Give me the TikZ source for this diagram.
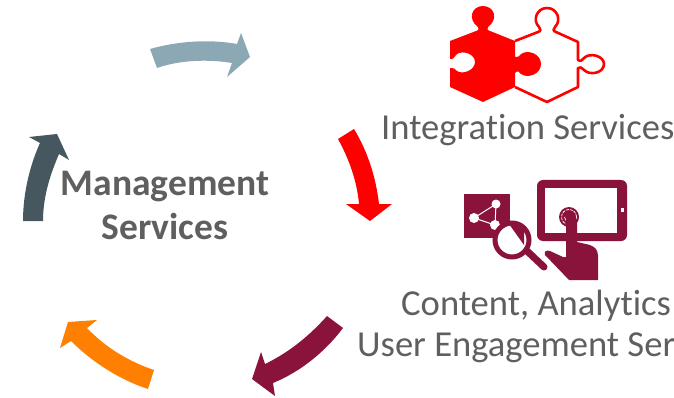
\documentclass[tikz,border=0pt]{standalone}
\usepackage{fontspec}
\setmainfont[Ligatures=NoCommon]{Carlito}
\definecolor{txt}{HTML}{5F5F5F}
\definecolor{maroon}{HTML}{8A133C}
\definecolor{slateb}{HTML}{8DA8B5}
\definecolor{darksl}{HTML}{47575F}
\definecolor{orng}{HTML}{FF7F00}
\tikzset{lbl/.style={text=txt,font=\fontsize{36.6}{42}\selectfont,align=center,inner sep=0pt},
mgmt/.style={text=txt,font=\fontsize{37.5}{44}\selectfont\bfseries,align=center,inner sep=0pt}}
\begin{document}
\begin{tikzpicture}[x=1pt,y=-1pt]
\useasboundingbox (0,0) rectangle (674,398);
\begin{scope}
\clip (0,0) rectangle (674,398);
% arrows
\fill[slateb] (150,49) .. controls (178,41) and (210,39) .. (237,44) -- (241,33) -- (250,57) -- (227,77) -- (232,63) .. controls (208,59) and (180,60) .. (157,68) -- cycle;
\fill[darksl] (23,221) .. controls (23,193) and (30,165) .. (40,143) -- (29,137) -- (57,134) -- (69,160) -- (59,154) .. controls (50,175) and (43,197) .. (43,221) -- cycle;
\fill[orng] (154,370) .. controls (130,362) and (106,348) .. (87,328) -- (97,320) -- (68,322) -- (60,348) -- (71,341) .. controls (92,362) and (120,380) .. (148,389) -- cycle;
\fill[maroon] (327,316) .. controls (310,335) and (290,352) .. (265,364) -- (261,352) -- (252,379) -- (275,396) -- (273,383) .. controls (300,372) and (325,352) .. (343,328) -- cycle;
\fill[red] (338,139) -- (354,129) .. controls (368,152) and (376,178) .. (379,204) -- (392,204) -- (370,221) -- (346,204) -- (359,204) .. controls (357,181) and (349,159) .. (338,139) -- cycle;
% puzzle outline piece
\draw[red,line width=2.6pt,line join=round] (515,41) -- (538,32) .. controls (541,31) and (541,29) .. (539,27) .. controls (532,20) and (537,8) .. (547,8) .. controls (557,8) and (562,20) .. (555,27) .. controls (553,29) and (553,31) .. (556,32) -- (578,42) -- (578,60) .. controls (581,62) and (582,60) .. (584,58) .. controls (590,52) and (604,56) .. (604,64) .. controls (604,73) and (590,76) .. (584,70) .. controls (582,68) and (580,66) .. (578,68) -- (578,87) -- (547,102) -- (515,87);
% puzzle solid piece
\fill[red] (450,41) -- (476,31) .. controls (479,30) and (479,29) .. (478,27) .. controls (467,19) and (472,6) .. (483,6) .. controls (494,6) and (499,19) .. (488,27) .. controls (487,29) and (487,30) .. (490,31) -- (515,41) -- (515,57) .. controls (518,58) and (519,56) .. (521,54) .. controls (528,49) and (541,54) .. (541,64) .. controls (541,74) and (528,79) .. (521,74) .. controls (519,72) and (518,70) .. (515,73) -- (515,87) -- (483,102) -- (450,87) -- (450,68) .. controls (453,67) and (455,69) .. (457,71) .. controls (463,75) and (475,70) .. (475,62) .. controls (475,54) and (463,50) .. (457,54) .. controls (455,56) and (453,60) .. (450,59) -- cycle;
% tablet
\fill[maroon,rounded corners=6pt] (537,180) rectangle (627,241);
\fill[white] (545,188) rectangle (617,233);
\fill[white] (620.5,208) rectangle (623.5,212);
\fill[maroon] (569,217) circle (10);
\draw[white,line width=0.7pt,dash pattern=on 3pt off 1pt] (569,217) circle (7.5);
\draw[white,line width=0.7pt] (564.5,217) arc[start angle=180,end angle=0,radius=4.5];
% hand
\fill[maroon] (566,220) .. controls (566,215) and (577,215) .. (577,220) -- (577,242) -- (590,245) .. controls (595,247) and (598,250) .. (598,256) -- (598,280) -- (569,280) -- (545,255) .. controls (544,251) and (546,250) .. (550,251) -- (563,257) -- (566,257) -- cycle;
% share square
\fill[maroon] (464,194) rectangle (510,238);
\draw[white,line width=1pt] (496,204) -- (474,218) -- (495,225) -- cycle;
\fill[white] (496,204) circle (4.5) (474,218) circle (5) (495,225) circle (5);
% magnifier
\fill[white] (512,240) circle (17);
\fill[maroon] (509,224) -- (524,226) -- (524,245) -- cycle;
\fill[white] (506,233) circle (7);
\draw[maroon,line width=5pt] (512,240) circle (17);
\draw[maroon,line width=7pt,line cap=round] (527,251) -- (544,267);
% labels
\node[lbl,anchor=base west] (integ) at (381,140) {Integration Services};
\node[lbl,anchor=base west] (content) at (401,315) {Content, Analytics};
\node[lbl,anchor=base west] (user) at (357,356) {User Engagement Ser};
\node[mgmt] (mg) at (165,205) {Management\\Services};
\end{scope}
\end{tikzpicture}
\end{document}
